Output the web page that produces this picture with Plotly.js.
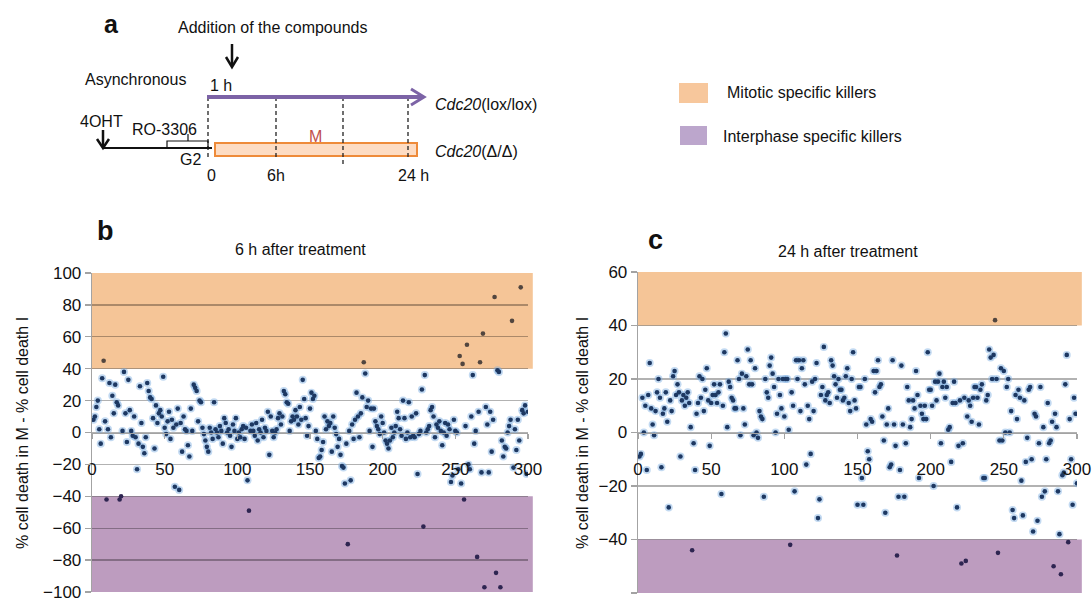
<!DOCTYPE html>
<html>
<head>
<meta charset="utf-8">
<script src="https://cdn.plot.ly/plotly-3.0.1.min.js"></script>
<style>
  html, body { margin: 0; padding: 0; background: #ffffff; }
  #chart { width: 1092px; height: 602px; }
</style>
</head>
<body>
<div id="chart"></div>
<script>
// Difference in cell death (mitosis minus interphase), one value per compound, screen order 1..300
const deltaAt6h = [
  8, 10, 16, 20, 2, -7, 34, 45, 7, -42,
  2, 31, -3, 23, 12, 30, 19, 17, -42, -40,
  1, 38, 12, -6, 33, 14, 1, -2, 10, -3,
  -23, -7, 29, 6, -9, -13, -3, 31, 26, 22,
  21, 9, -10, 17, 6, 12, 14, 10, 35, 3,
  -1, 7, 13, -4, 8, 3, -34, 5, 15, -36,
  6, -12, 10, 2, 1, -8, -15, 15, 1, 30,
  28, 26, 7, 20, 19, 3, -1, -5, -9, -12,
  3, 0, -4, 19, 2, 0, -3, 4, 1, -7,
  9, 6, 0, 2, -2, -9, 5, 1, 9, -4,
  0, -3, 2, 4, -4, 3, -30, -49, 1, 5,
  1, -2, 6, -5, 2, 0, 8, -3, 3, 1,
  13, -14, 10, 1, -3, 0, 2, 9, 12, 5,
  10, 26, 24, 19, 18, 1, 7, 10, 8, 14,
  10, 5, 16, 8, 33, 21, 9, -2, 4, 15,
  25, 21, 23, 1, -4, -16, -15, -11, -6, 10,
  2, 7, 4, 6, -12, 10, 3, -1, -9, -4,
  -14, -21, -22, -32, -7, -70, 1, -30, 5, -4,
  8, 25, 10, -3, 12, 22, 44, 37, 16, 20,
  1, 15, -9, 15, 7, 4, 2, -1, 10, 6,
  0, -5, -7, -10, -5, 3, -3, 0, 4, 13,
  9, 2, -2, 20, 9, -4, 0, 19, -3, 10,
  -2, -3, 12, -26, -1, 1, 27, -59, 36, 0,
  2, 4, 14, 16, 10, -3, 5, 3, 7, 1,
  -8, 0, 6, -2, 5, 2, -31, -27, 8, 1,
  0, -23, 48, -32, 43, -42, 4, 55, -20, -23,
  10, 36, -7, 1, -78, 13, 44, -25, 62, -97,
  16, 5, -25, 13, -12, 8, 85, -88, 39, 38,
  -97, -5, -15, -9, -10, 0, 4, 8, 70, -22,
  2, -11, 8, -5, 91, 14, 12, 17, -26, 13
];

const deltaAt24h = [
  -9, -8, 13, 0, 10, -14, 14, 26, 9, 3,
  -1, 8, 15, 20, 13, -13, 7, 9, 15, 4,
  -28, 12, 8, 21, 23, 14, 18, 15, -9, 12,
  14, 10, 13, 15, 11, 2, -44, -4, -14, 7,
  11, 21, 13, 20, 8, 16, 24, 12, -5, 11,
  14, 18, 14, 11, 15, 18, -23, 10, 30, 37,
  2, 19, 17, 13, 12, 9, 9, 27, 20, -1,
  22, 9, 3, 21, 31, 18, 27, 18, -1, 24,
  0, -2, 8, 6, 5, -24, 20, 15, 13, 25,
  28, 22, 17, 0, 7, 20, 14, 9, 20, 6,
  20, 20, 1, -42, 15, 10, -22, 27, 20, 27,
  8, 24, 27, 18, -12, 10, 5, -8, 19, 8,
  20, 26, -32, -25, 14, 17, 32, 12, 14, 15,
  11, 27, 25, 21, 18, 13, 20, 16, 16, 12,
  13, 21, 24, 11, 8, 20, 30, 12, 9, -27,
  17, 17, -17, -27, 20, 3, -7, -10, 5, 4,
  23, 15, 23, 27, 17, 18, 6, -3, -30, 3,
  9, -13, -12, 27, 3, -5, -46, -24, -14, 25,
  3, -24, -4, 17, 12, 2, 5, 12, 9, 23,
  14, -17, 10, 7, 5, 10, 5, 30, 16, 16,
  10, -20, 19, 12, 19, 22, -4, 17, 19, 13,
  17, 1, 2, -11, 11, 19, 11, -28, -5, 12,
  -49, -4, 13, -48, 6, 12, 10, 4, 13, 17,
  17, 13, 3, 16, 18, -17, -17, 12, 14, 31,
  28, 20, 29, 42, 20, -45, -3, 24, -3, 23,
  0, 17, 20, 0, 8, -29, -32, 14, 5, 16,
  13, -18, -31, 12, -11, -2, 16, 17, -10, -37,
  7, 6, -33, -4, 17, -24, 2, -22, -10, 11,
  -4, -3, 4, -50, 7, 2, -22, -38, -53, -16,
  -15, 18, 29, -41, 5, -10, -27, 13, 7, -19
];

const panelTitles = ['6 h after treatment', '24 h after treatment'];
const yAxisLabel = '% cell death in M - % cell death I';
const legendLabels = ['Mitotic specific killers', 'Interphase specific killers'];
const mitoticThreshold = 40;
const interphaseThreshold = -40;

// page geometry helpers (pixels -> paper fractions)
const W = 1092, H = 602;
const px = x => x / W;
const py = y => 1 - y / H;

const FONT = 'Liberation Sans, Arial, sans-serif';
const ORANGE_BAND = '#F5C597';
const PURPLE_BAND = '#BD9CBF';
const GRID = 'rgba(0,0,0,0.30)';
const AXIS = '#A3A3A3';

// dots inside a killer band are shown dark, without the blue glow
function coreColor(v) {
  if (v >= mitoticThreshold) return '#52463F';
  if (v <= interphaseThreshold) return '#2E2551';
  return '#1D3862';
}
function haloColor(v) {
  if (v >= mitoticThreshold || v <= interphaseThreshold) return 'rgba(0,0,0,0)';
  return 'rgba(120,170,225,0.45)';
}

function dotTraces(values, xa, ya) {
  const idx = values.map((_, i) => i + 1);
  return [
    { x: idx, y: values, xaxis: xa, yaxis: ya, type: 'scatter', mode: 'markers',
      marker: { size: 8, color: values.map(haloColor) }, hoverinfo: 'skip' },
    { x: idx, y: values, xaxis: xa, yaxis: ya, type: 'scatter', mode: 'markers',
      marker: { size: 4.6, color: values.map(coreColor) } }
  ];
}

const data = [
  ...dotTraces(deltaAt6h, 'x', 'y'),
  ...dotTraces(deltaAt24h, 'x2', 'y2')
];

const domB = { x: [px(92), px(528)], y: [py(592), py(273)] };
const domC = { x: [px(638), px(1077)], y: [py(593), py(272)] };

function xAxis(dom, yr) {
  const zeroPos = dom.y[0] + (0 - yr[0]) / (yr[1] - yr[0]) * (dom.y[1] - dom.y[0]);
  return {
    domain: dom.x, range: [0, 300], anchor: 'free', position: zeroPos, side: 'bottom',
    showline: true, linecolor: AXIS, linewidth: 1.3,
    ticks: 'outside', ticklen: 5, tickcolor: AXIS, tickwidth: 1.3,
    tick0: 0, dtick: 50, showgrid: false, zeroline: false,
    tickfont: { family: FONT, size: 17, color: '#111' }, ticklabelstandoff: 16,
    fixedrange: true
  };
}
function yAxis(dom, yr, xa) {
  return {
    domain: dom.y, range: yr, anchor: xa, dtick: 20, tick0: 0,
    showline: true, linecolor: AXIS, linewidth: 1.3,
    ticks: 'outside', ticklen: 6, tickcolor: AXIS, tickwidth: 1.3,
    showgrid: true, gridcolor: GRID, gridwidth: 1.3, zeroline: false,
    tickfont: { family: FONT, size: 17, color: '#111' }, fixedrange: true
  };
}

const shapes = [];
// selection bands, beneath the grid and the dots
[['x', 'y', 100, -100], ['x2', 'y2', 60, -60]].forEach(([xa, ya, top, bottom]) => {
  shapes.push({ type: 'rect', xref: xa + ' domain', yref: ya, x0: 0, x1: 1.011,
    y0: mitoticThreshold, y1: top, fillcolor: ORANGE_BAND,
    line: { width: 0 }, layer: 'below' });
  shapes.push({ type: 'rect', xref: xa + ' domain', yref: ya, x0: 0, x1: 1.011,
    y0: bottom, y1: interphaseThreshold, fillcolor: PURPLE_BAND,
    line: { width: 0 }, layer: 'below' });
});

// legend swatches
shapes.push({ type: 'rect', xref: 'paper', yref: 'paper', x0: px(679), x1: px(708),
  y0: py(103), y1: py(83), fillcolor: '#F7C79C', line: { width: 0 } });
shapes.push({ type: 'rect', xref: 'paper', yref: 'paper', x0: px(680), x1: px(707),
  y0: py(145), y1: py(126), fillcolor: '#BCA6CC', line: { width: 0 } });

// timeline schematic
function seg(x0, y0, x1, y1, color, width, dash) {
  shapes.push({ type: 'line', xref: 'paper', yref: 'paper', x0: px(x0), y0: py(y0),
    x1: px(x1), y1: py(y1), line: { color, width, dash: dash || 'solid' } });
}
function poly(points, color, width) {
  const d = points.map((p, i) => (i ? 'L ' : 'M ') + px(p[0]) + ' ' + py(p[1])).join(' ');
  shapes.push({ type: 'path', xref: 'paper', yref: 'paper', path: d,
    line: { color, width } });
}
// orange mitosis bar
shapes.push({ type: 'rect', xref: 'paper', yref: 'paper', x0: px(215), x1: px(417),
  y0: py(156), y1: py(143), fillcolor: '#FDDCC3', line: { color: '#EE8B3A', width: 2 } });
// dashed time marks
[[208, 97, 157], [276, 97, 157], [343, 97, 166], [408, 97, 157]].forEach(([x, a, b]) =>
  seg(x, a, x, b, '#222', 1.3, '4px,3px'));
// purple arrow for Cdc20(lox/lox)
seg(207, 97, 422, 97, '#7C63A6', 4);
poly([[411, 89], [424, 97], [411, 105]], '#7C63A6', 3);
// black baseline and arrows
seg(103, 148, 212, 148, '#111', 2);
seg(232, 44, 232, 66, '#111', 2.5);
poly([[226, 57], [232, 67], [238, 57]], '#111', 2.5);
seg(103, 130, 103, 147, '#111', 2.5);
poly([[97, 139], [103, 148], [109, 139]], '#111', 2.5);
// RO-3306 bracket
poly([[167, 148], [167, 141], [208, 141], [208, 148]], '#111', 1.2);
seg(188, 141, 188, 134, '#111', 1.2);

function label(text, x, y, size, opts) {
  return Object.assign({ text, xref: 'paper', yref: 'paper', x: px(x), y: py(y),
    xanchor: 'center', yanchor: 'middle', showarrow: false,
    font: { family: FONT, size, color: '#111' } }, opts || {});
}

const annotations = [
  label('<b>a</b>', 111, 24, 25),
  label('<b>b</b>', 105, 231, 27),
  label('<b>c</b>', 655, 240, 27),
  label('Addition of the compounds', 272, 28, 16),
  label('Asynchronous', 135, 80, 16),
  label('1 h', 221, 86, 16),
  label('4OHT', 101, 121, 16),
  label('RO-3306', 164, 129, 16),
  label('G2', 190, 160, 16),
  label('0', 211, 175, 16),
  label('6h', 276, 175, 16),
  label('24 h', 413, 175, 16),
  label('M', 315, 136, 16, { font: { family: FONT, size: 16, color: '#C0504D' } }),
  label('<i>Cdc20</i>(lox/lox)', 433, 104, 16, { xanchor: 'left' }),
  label('<i>Cdc20</i>(Δ/Δ)', 433, 151, 16, { xanchor: 'left' }),
  label(legendLabels[0], 725, 93, 16, { xanchor: 'left' }),
  label(legendLabels[1], 721, 136, 16, { xanchor: 'left' }),
  label(panelTitles[0], 300, 249, 16),
  label(panelTitles[1], 848, 251, 16),
  label(yAxisLabel, 22, 433, 16, { textangle: -90 }),
  label(yAxisLabel, 582, 433, 16, { textangle: -90 })
];

const layout = {
  width: W, height: H,
  margin: { l: 0, r: 0, t: 0, b: 0 },
  paper_bgcolor: '#ffffff', plot_bgcolor: '#ffffff',
  showlegend: false,
  font: { family: FONT, color: '#111' },
  xaxis: xAxis(domB, [-100, 100]),
  yaxis: yAxis(domB, [-100, 100], 'x'),
  xaxis2: xAxis(domC, [-60, 60]),
  yaxis2: yAxis(domC, [-60, 60], 'x2'),
  shapes, annotations
};

Plotly.newPlot('chart', data, layout, { displayModeBar: false, staticPlot: true });
</script>
</body>
</html>
